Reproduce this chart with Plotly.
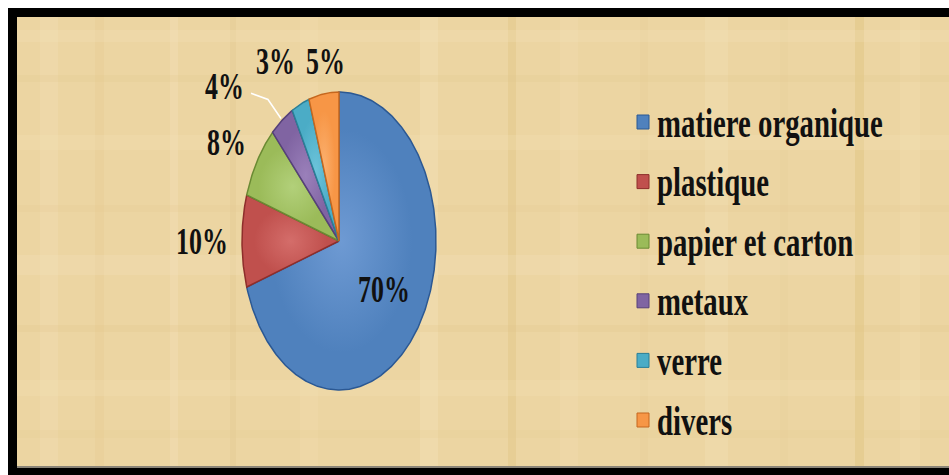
import numpy as np
import plotly.graph_objects as go

# Composition of household waste (percent of total mass)
categories = ["matiere organique", "plastique", "papier et carton", "metaux", "verre", "divers"]
shares = [70, 10, 8, 4, 3, 5]
colors = ["#4F81BD", "#C0504D", "#9BBB59", "#8064A2", "#4BACC6", "#F79646"]
light_colors = ["#6E9AD3", "#D46D6A", "#B2D07A", "#9A80BA", "#6CC3DA", "#FBB06E"]
edge_colors = ["#2B5893", "#8E2E2B", "#6A8A33", "#56407A", "#2A7F97", "#C5671E"]

W, H = 949, 475
# Elliptical pie: centre and semi-axes in pixel units
CX, CY, RX, RY = 339, 241, 97, 149

# Per-label position tweaks (radius factor, dx, dy)
label_offsets = [(0.55, 3, 1), (1.35, -5, 1), (1.35, -1, 10), (1.35, -37, 9), (1.35, -10, 6), (1.35, 8, 20)]

FONT = "Liberation Serif, Times New Roman, serif"

fig = go.Figure()

# ---- parchment background and frame -------------------------------------
shapes = [
    dict(type="rect", x0=8, y0=8, x1=W + 5, y1=H + 5, fillcolor="#000000", line_width=0, layer="below"),
    dict(type="rect", x0=17, y0=17, x1=W + 5, y1=468, fillcolor="#ECD5A2", line_width=0, layer="below"),
    dict(type="rect", x0=17, y0=466, x1=W + 5, y1=468, fillcolor="#8A8478", line_width=0, layer="below"),
]
v_strips = [(40, 58, "#F3E2B8", 0.3), (95, 104, "#E3C98C", 0.25), (170, 178, "#F5E6C0", 0.3),
            (230, 236, "#DDBF80", 0.2), (300, 318, "#F2E0B4", 0.25), (420, 438, "#F5E5BE", 0.35),
            (508, 516, "#E0C27E", 0.35), (560, 578, "#F2E1B6", 0.25), (640, 648, "#E4CA90", 0.2),
            (705, 728, "#F3E3BA", 0.3), (780, 788, "#E6CD95", 0.2), (855, 864, "#DFC07A", 0.4),
            (900, 920, "#F2E0B4", 0.3)]
h_strips = [(30, 42, "#F4E4BC", 0.25), (75, 82, "#E2C78C", 0.2), (135, 150, "#F3E2B8", 0.25),
            (205, 212, "#E4CA90", 0.2), (255, 275, "#F4E5BF", 0.25), (325, 332, "#E0C585", 0.2),
            (380, 396, "#F3E2B8", 0.25), (430, 438, "#E6CC92", 0.2)]
for x0, x1, c, op in v_strips:
    shapes.append(dict(type="rect", x0=x0, x1=x1, y0=17, y1=466, fillcolor=c, opacity=op,
                       line_width=0, layer="below"))
for y0, y1, c, op in h_strips:
    shapes.append(dict(type="rect", x0=17, x1=W + 5, y0=y0, y1=y1, fillcolor=c, opacity=op,
                       line_width=0, layer="below"))

# ---- pie wedges -----------------------------------------------------------
total = float(sum(shares))
start = 0.0
mids = []
for name, v, c, lc, ec in zip(categories, shares, colors, light_colors, edge_colors):
    frac = v / total
    t = np.linspace(start, start + frac, max(int(frac * 500), 10))
    xs = np.concatenate([[CX], CX + RX * np.sin(2 * np.pi * t), [CX]])
    ys = np.concatenate([[CY], CY - RY * np.cos(2 * np.pi * t), [CY]])
    fig.add_trace(go.Scatter(
        x=xs, y=ys, mode="lines", fill="toself", fillcolor=c,
        fillgradient=dict(type="radial", colorscale=[[0, lc], [0.75, c], [1, c]]),
        line=dict(color=ec, width=1.5), name=name, showlegend=False,
        hoverinfo="text", text=f"{name}: {v}%",
    ))
    mids.append(start + frac / 2)
    start += frac

# ---- percentage labels ------------------------------------------------------
annotations = []
for v, m, (f, dx, dy) in zip(shares, mids, label_offsets):
    lx = CX + f * RX * np.sin(2 * np.pi * m) + dx
    ly = CY - f * RY * np.cos(2 * np.pi * m) + dy
    annotations.append(dict(x=lx, y=ly, text=f"{v}%", showarrow=False,
                            xanchor="center", yanchor="middle",
                            font=dict(family=FONT, size=27, color="#111111", weight="bold")))

# leader line for the small "metaux" slice
m4 = mids[3]
rim_x = CX + RX * np.sin(2 * np.pi * m4)
rim_y = CY - RY * np.cos(2 * np.pi * m4)
f4, dx4, dy4 = label_offsets[3]
lab_x = CX + f4 * RX * np.sin(2 * np.pi * m4) + dx4
lab_y = CY - f4 * RY * np.cos(2 * np.pi * m4) + dy4
fig.add_trace(go.Scatter(
    x=[lab_x + 26, rim_x - 14, rim_x - 1],
    y=[lab_y + 6, rim_y - 21, rim_y - 2],
    mode="lines", line=dict(color="#FFFFFF", width=1.5),
    showlegend=False, hoverinfo="skip",
))

# ---- legend ---------------------------------------------------------------
LEG_X, LEG_Y0, LEG_DY = 643, 122, 59.6
for i, (name, c, ec) in enumerate(zip(categories, colors, edge_colors)):
    y = LEG_Y0 + i * LEG_DY
    shapes.append(dict(type="rect", x0=LEG_X - 6, x1=LEG_X + 6, y0=y - 7, y1=y + 7,
                       fillcolor=c, line=dict(color=ec, width=1)))
    annotations.append(dict(x=LEG_X + 12, y=y, text=name, showarrow=False,
                            xanchor="left", yanchor="middle",
                            font=dict(family=FONT, size=30, color="#111111", weight="bold")))

fig.update_layout(
    width=W, height=H,
    margin=dict(l=0, r=0, t=0, b=0),
    paper_bgcolor="#FFFFFF", plot_bgcolor="rgba(0,0,0,0)",
    xaxis=dict(range=[0, W], visible=False, fixedrange=True),
    yaxis=dict(range=[H, 0], visible=False, fixedrange=True),
    shapes=shapes, annotations=annotations,
    showlegend=False,
)

# Tall, slightly condensed lettering: stretch the annotation text about its own box
tall_text_css = """
var st = document.createElement('style');
st.textContent = '.annotation-text { transform-box: fill-box; transform-origin: 0% 50%; transform: scale(0.96, 1.38); }';
document.head.appendChild(st);
"""

fig.write_html("out.html", config={"displayModeBar": False}, post_script=tall_text_css)
